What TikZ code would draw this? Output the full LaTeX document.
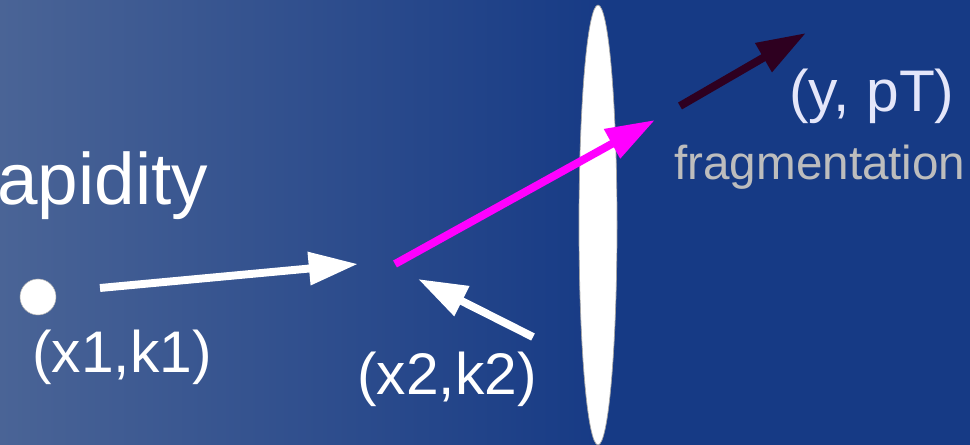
\documentclass[tikz,border=0pt]{standalone}
\usepackage{fontspec}
\setmainfont{Liberation Sans}
\usetikzlibrary{arrows.meta}
\definecolor{bgleft}{HTML}{4A6496}
\definecolor{bgright}{HTML}{163A85}
\definecolor{partmag}{HTML}{FF00FF}
\definecolor{hadron}{HTML}{2E0020}
\definecolor{ptlabel}{HTML}{E4E6FA}
\definecolor{fraggray}{HTML}{BDBDBD}
\tikzset{
  parton/.style={line width=4.5pt, -{Triangle[length=28pt, width=18pt]}},
  biglabel/.style={inner sep=0pt, anchor=base west, font=\fontsize{33.4}{38}\selectfont}
}
\begin{document}
\begin{tikzpicture}[x=0.02cm, y=-0.02cm]
    \useasboundingbox (0,0) rectangle (970,445);
    \clip (0,0) rectangle (970,445);

    % background
    \fill[bgright] (0,0) rectangle (970,445);
    \shade[left color=bgleft, right color=bgright] (0,0) rectangle (610,445);

    % target nucleus (Lorentz contracted)
    \filldraw[white, draw=gray!70, line width=0.4pt] (598,225) ellipse [x radius=0.38cm, y radius=4.4cm];

    % labels
    \node[biglabel, white, font=\fontsize{41.5}{46}\selectfont] (rap) at (-3,205) {apidity};
    \node[biglabel, white] (xk1) at (32,373) {(x1,k1)};
    \node[biglabel, white] (xk2) at (357,395) {(x2,k2)};
    \node[biglabel, ptlabel] (ypt) at (789,112) {(y, pT)};
    \node[biglabel, fraggray, font=\fontsize{27.1}{31}\selectfont] (frag) at (674,180) {fragmentation};

    % projectile parton
    \node[circle, fill=white, draw=gray!60, line width=0.3pt, inner sep=0pt, minimum size=20.5pt] (dot) at (38,297) {};

    % partons
    \coordinate (p1s) at (100,288);
    \coordinate (p1e) at (358,264);
    \coordinate (p2s) at (533,337);
    \coordinate (p2e) at (418,279);
    \coordinate (gs) at (395,264);
    \coordinate (ge) at (655,120);
    \coordinate (hs) at (680,106);
    \coordinate (he) at (806,33);

    \draw[parton, white] (p1s) -- (p1e);
    \draw[parton, white] (p2s) -- (p2e);
    \draw[parton, partmag] (gs) -- (ge);
    \draw[parton, hadron] (hs) -- (he);
\end{tikzpicture}
\end{document}
